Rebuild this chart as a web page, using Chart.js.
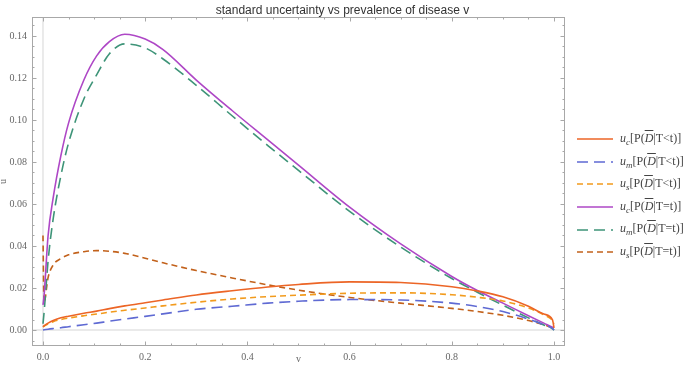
<!DOCTYPE html>
<html>
<head>
<meta charset="utf-8">
<script src="https://cdn.jsdelivr.net/npm/chart.js@4.4.1/dist/chart.umd.min.js"></script>
<style>
body { margin: 0; background: #fff; }
#wrap { position: relative; width: 685px; height: 375px; }
#title { position: absolute; left: 0; width: 685px; top: 3px; text-align: center;
  font-family: "Liberation Sans", Arial, sans-serif; font-size: 12px; color: #333; }
#legend { position: absolute; left: 577px; top: 128px; font-family: "Liberation Serif", serif;
  font-size: 12px; color: #444; }
.item { height: 22.6px; display: flex; align-items: center; white-space: nowrap; }
.item svg { margin-right: 7px; }
.ov { text-decoration: overline; font-style: italic; }
</style>
</head>
<body>
<div id="wrap">
  <canvas id="graph1" width="685" height="375"></canvas>
  <div id="title">standard uncertainty vs prevalence of disease v</div>
  <div id="legend"></div>
</div>
<script>
// prevalence grid
var v = [0, 0.002, 0.01, 0.02, 0.035, 0.05, 0.08, 0.105, 0.13, 0.16, 0.2, 0.235, 0.3, 0.37, 0.44, 0.5, 0.6, 0.7, 0.8, 0.85, 0.9, 0.95, 0.98, 0.997, 1.0];

// T<t
var ucLess = [0.0015, 0.002, 0.0033, 0.0045, 0.0058, 0.0066, 0.008, 0.009, 0.0102, 0.0115, 0.013, 0.0143, 0.0167, 0.0187, 0.0205, 0.0217, 0.0229, 0.0226, 0.0206, 0.0186, 0.0158, 0.0113, 0.0076, 0.0048, 0.001];
var umLess = [0, 0.0001, 0.0004, 0.0007, 0.0011, 0.0016, 0.0025, 0.0033, 0.0042, 0.0052, 0.0065, 0.0077, 0.0099, 0.0113, 0.0128, 0.0137, 0.0145, 0.0143, 0.0128, 0.0112, 0.0088, 0.0052, 0.0025, 0.0008, 0];
var usLess = [0.0015, 0.0018, 0.003, 0.004, 0.005, 0.0057, 0.0068, 0.0076, 0.0085, 0.0094, 0.0105, 0.0115, 0.0132, 0.0148, 0.0159, 0.0166, 0.0175, 0.0177, 0.0168, 0.0156, 0.0138, 0.0105, 0.0072, 0.0045, 0.003];
// T=t
var ucEq = [0.012, 0.016, 0.045, 0.063, 0.083, 0.0985, 0.119, 0.1305, 0.1373, 0.1408, 0.1385, 0.1335, 0.119, 0.1045, 0.0905, 0.0785, 0.0585, 0.041, 0.0255, 0.0188, 0.0128, 0.0068, 0.0033, 0.0014, 0.001];
var umEq = [0.003, 0.008, 0.033, 0.053, 0.0735, 0.089, 0.11, 0.1215, 0.1315, 0.1362, 0.1343, 0.129, 0.1165, 0.102, 0.0878, 0.076, 0.0565, 0.0395, 0.0245, 0.018, 0.0118, 0.0058, 0.0024, 0.0006, 0];
var usEq = [0.045, 0.013, 0.025, 0.031, 0.034, 0.0358, 0.0373, 0.0378, 0.0375, 0.0365, 0.0342, 0.032, 0.0283, 0.0248, 0.0215, 0.019, 0.0155, 0.0128, 0.0103, 0.0088, 0.007, 0.0045, 0.0025, 0.0012, 0.001];

var xTicks = [0, 0.2, 0.4, 0.6, 0.8, 1.0];
var yTicks = [0, 0.02, 0.04, 0.06, 0.08, 0.10, 0.12, 0.14];

var series = [
  { sym: 'c', cond: 'T&lt;t', data: ucLess, color: '#EC6526', dash: [] },
  { sym: 'm', cond: 'T&lt;t', data: umLess, color: '#5F6AD3', dash: [11, 6] },
  { sym: 's', cond: 'T&lt;t', data: usLess, color: '#F29B1D', dash: [6, 4] },
  { sym: 'c', cond: 'T=t', data: ucEq, color: '#AE47C6', dash: [] },
  { sym: 'm', cond: 'T=t', data: umEq, color: '#3E9478', dash: [11, 6] },
  { sym: 's', cond: 'T=t', data: usEq, color: '#C2611B', dash: [6, 4] }
];

function pts(arr) {
  return arr.map(function (y, i) { return { x: v[i], y: y }; });
}

var frameTicks = {
  id: 'frameTicks',
  beforeDatasetsDraw: function (chart) {
    var c = chart.ctx, a = chart.chartArea;
    var xs = chart.scales.x, ys = chart.scales.y;
    c.save();
    // zero lines
    c.strokeStyle = '#e4e4e4';
    c.lineWidth = 1.5;
    c.beginPath();
    c.moveTo(xs.getPixelForValue(0), a.top);
    c.lineTo(xs.getPixelForValue(0), a.bottom);
    c.moveTo(a.left, ys.getPixelForValue(0));
    c.lineTo(a.right, ys.getPixelForValue(0));
    c.stroke();
    // frame
    c.strokeStyle = '#a8a8a8';
    c.lineWidth = 1;
    c.strokeRect(a.left + 0.5, a.top + 0.5, a.right - a.left - 1, a.bottom - a.top - 1);
    // ticks inward
    c.beginPath();
    for (var i = 0; i <= 20; i++) {
      var xv = i * 0.05;
      var len = (i % 4 === 0) ? 4.5 : 2.5;
      var px = Math.round(xs.getPixelForValue(xv)) + 0.5;
      c.moveTo(px, a.bottom); c.lineTo(px, a.bottom - len);
      c.moveTo(px, a.top); c.lineTo(px, a.top + len);
    }
    for (var j = -1; j <= 29; j++) {
      var yv = j * 0.005;
      var l2 = (j % 4 === 0) ? 4.5 : 2.5;
      var py = Math.round(ys.getPixelForValue(yv)) + 0.5;
      c.moveTo(a.left, py); c.lineTo(a.left + l2, py);
      c.moveTo(a.right, py); c.lineTo(a.right - l2, py);
    }
    c.stroke();
    c.restore();
  }
};

var tickFont = { family: 'Liberation Serif', size: 10 };

var config = {
  type: 'line',
  data: {
    datasets: series.map(function (s) {
      return {
        data: pts(s.data),
        borderColor: s.color,
        borderDash: s.dash,
        borderWidth: 1.6,
        pointRadius: 0,
        fill: false,
        cubicInterpolationMode: 'monotone'
      };
    })
  },
  plugins: [frameTicks],
  options: {
    responsive: false,
    animation: false,
    layout: { padding: { top: 17, right: 120, left: 0, bottom: 0 } },
    plugins: { legend: { display: false }, tooltip: { enabled: false } },
    scales: {
      x: {
        type: 'linear',
        min: -0.0215, max: 1.0215,
        afterBuildTicks: function (s) { s.ticks = xTicks.map(function (t) { return { value: t }; }); },
        afterFit: function (s) { s.height = 29; },
        grid: { display: false, drawTicks: false },
        border: { display: false },
        ticks: { font: tickFont, color: '#666', padding: 5, maxRotation: 0,
          callback: function (val) { return val.toFixed(1); } },
        title: { display: true, text: 'v', font: { family: 'Liberation Serif', size: 10, lineHeight: 1 },
          color: '#666', padding: { top: 0, bottom: 11 } }
      },
      y: {
        type: 'linear',
        min: -0.0076, max: 0.149,
        afterBuildTicks: function (s) { s.ticks = yTicks.map(function (t) { return { value: t }; }); },
        afterFit: function (s) { s.width = 32; },
        grid: { display: false, drawTicks: false },
        border: { display: false },
        ticks: { font: tickFont, color: '#666', padding: 5,
          callback: function (val) { return val.toFixed(2); } },
        title: { display: true, text: 'u', font: { family: 'Liberation Serif', size: 10, lineHeight: 1 },
          color: '#666', padding: { top: -2, bottom: 0 } }
      }
    }
  }
};

var graph1 = new Chart(document.getElementById('graph1').getContext('2d'), config);

// legend
var leg = document.getElementById('legend');
series.forEach(function (s) {
  var d = document.createElement('div');
  d.className = 'item';
  d.innerHTML = '<svg width="36" height="4"><line x1="0" y1="2" x2="36" y2="2" stroke="' + s.color +
    '" stroke-width="1.6" stroke-dasharray="' + (s.dash.length ? s.dash.join(',') : 'none') + '"/></svg>' +
    '<span><i>u</i><sub style="font-size:9px"><i>' + s.sym + '</i></sub>[P(<span class="ov">D</span>|' + s.cond + ')]</span>';
  leg.appendChild(d);
});
</script>
</body>
</html>
